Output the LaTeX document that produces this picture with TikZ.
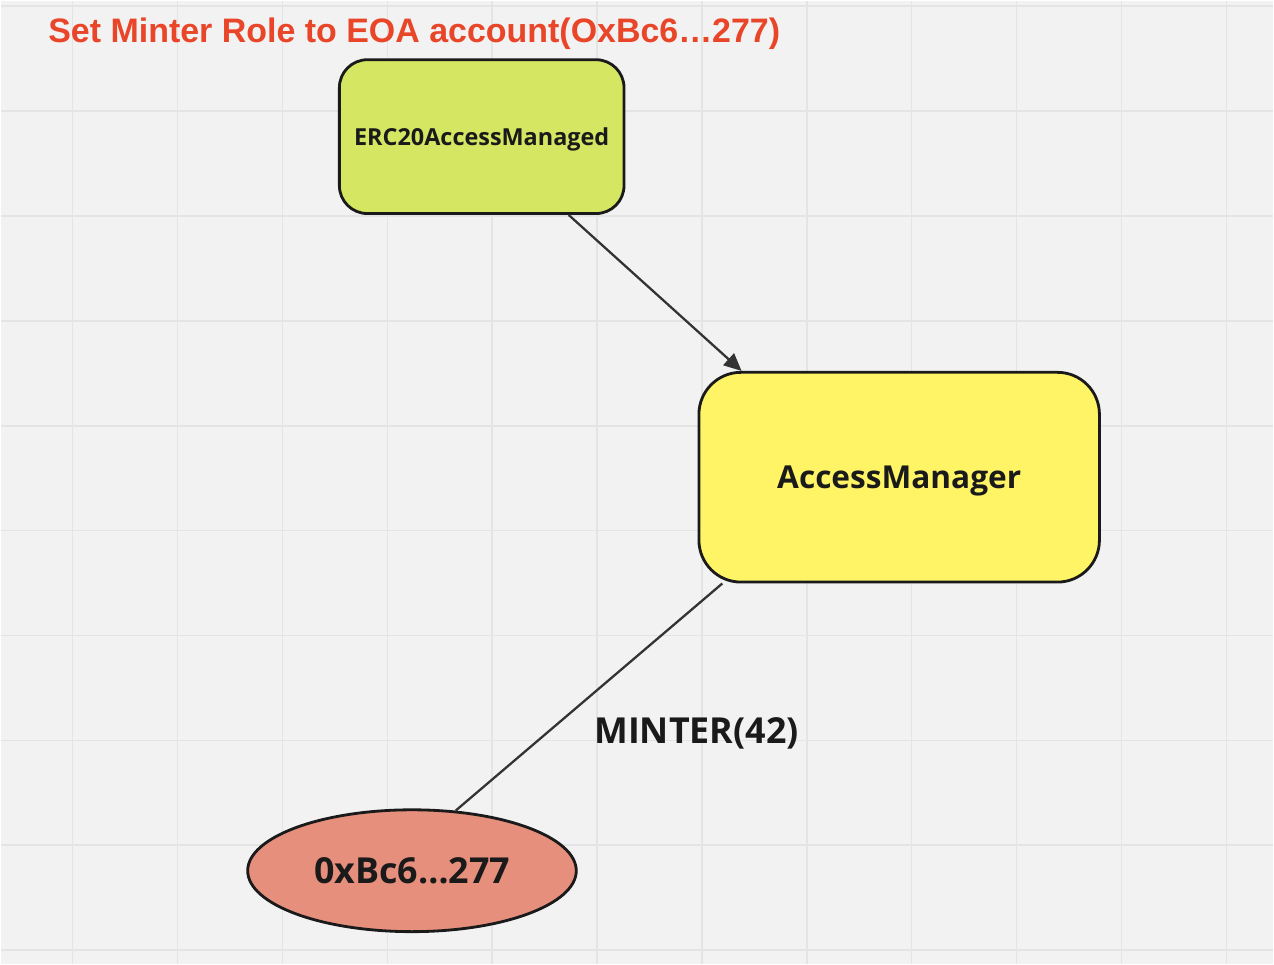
\documentclass[tikz,border=0pt]{standalone}
\usepackage{xcolor}
\usepackage{fontspec}
\setmainfont{Open Sans}
\newfontfamily\titlefont{Liberation Sans}
\usetikzlibrary{arrows.meta,shapes.geometric}

\definecolor{gridbg}{RGB}{242,242,242}
\definecolor{gridline}{RGB}{228,228,228}
\definecolor{titlered}{RGB}{233,69,40}
\definecolor{ercgreen}{RGB}{212,230,98}
\definecolor{amyellow}{RGB}{255,244,102}
\definecolor{eoasalmon}{RGB}{229,143,124}
\definecolor{edgeblack}{RGB}{26,26,26}
\definecolor{linegray}{RGB}{51,51,51}

\begin{document}
\begin{tikzpicture}[line width=0.8pt,
  contract/.style={draw=edgeblack,text=edgeblack,align=center,text depth=0pt},
  link/.style={draw=linegray,line width=0.65pt},
  gridrule/.style={draw=gridline,line width=0.45pt}]


% board
\fill[gridbg] (0,0) rectangle (12.74,-9.64);
\foreach \k in {0,...,11} \draw[gridrule] ({0.72+1.05*\k},0) -- ++(0,-9.64);
\foreach \k in {0,...,9} \draw[gridrule] (0,{-0.055-1.05*\k}) -- ++(12.74,0);



% 1
\node[text=titlered,font=\titlefont\bfseries\fontsize{9.67}{11}\selectfont,anchor=base] (TitleRole) at (4.14,-0.42) {Set Minter Role to EOA account(OxBc6…277)};


% 2
\node[contract,fill=ercgreen,rounded corners=0.28cm,minimum width=2.85cm,minimum height=1.54cm,font=\bfseries\fontsize{6.67}{8}\selectfont] (ContractERC) at (4.815,-1.36) {ERC20AccessManaged};

\node[contract,fill=amyellow,rounded corners=0.42cm,minimum width=4.01cm,minimum height=2.10cm,font=\bfseries\fontsize{9}{11}\selectfont] (ContractAM) at (8.995,-4.77) {AccessManager};

\node[contract,ellipse,fill=eoasalmon,inner sep=0pt,minimum width=3.29cm,minimum height=1.22cm,font=\bfseries\fontsize{10.2}{12}\selectfont] (AccountEOA) at (4.117,-8.71) {0xBc6…277};

\node[text=edgeblack,font=\bfseries\fontsize{10.2}{12}\selectfont,anchor=base] (RoleMinter) at (6.965,-7.44) {MINTER(42)};


\draw[link,-{Triangle[length=5pt,width=4.5pt]}] (ContractERC.-42.2) to (ContractAM.146.6);
\draw[link] (ContractAM.211) to (AccountEOA.54); % here


\end{tikzpicture}
\end{document}
